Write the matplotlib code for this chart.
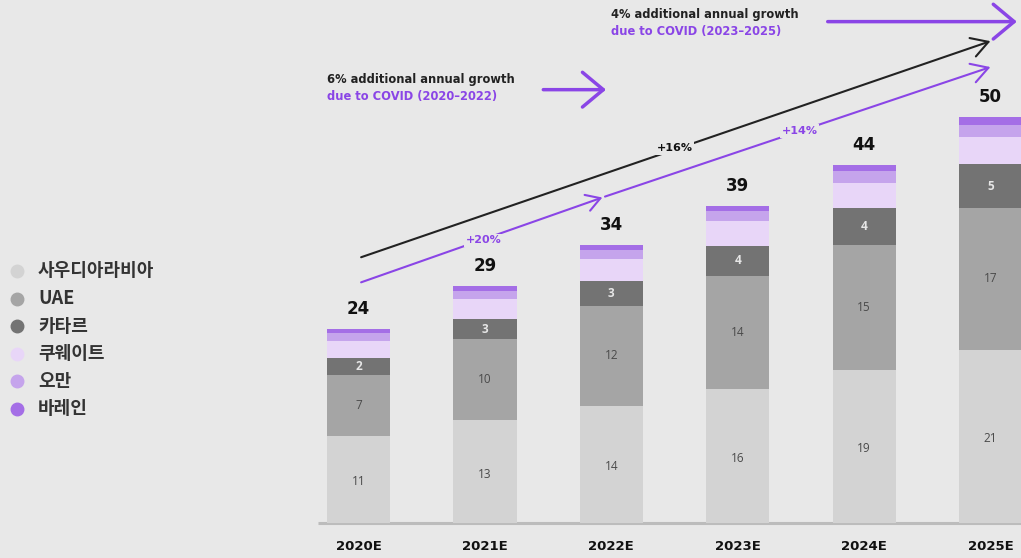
import matplotlib.pyplot as plt
from matplotlib.lines import Line2D

years = ["2020E", "2021E", "2022E", "2023E", "2024E", "2025E"]
totals = [24, 29, 34, 39, 44, 50]
series = ["사우디아라비아", "UAE", "카타르", "쿠웨이트", "오만", "바레인"]
saudi = [10.8, 12.7, 14.5, 16.6, 18.9, 21.4]
uae = [7.5, 10.0, 12.3, 13.9, 15.4, 17.5]
qatar = [2.1, 2.5, 3.1, 3.7, 4.6, 5.4]
kuwait = [2.1, 2.5, 2.7, 3.1, 3.1, 3.4]
oman = [0.9, 0.9, 1.1, 1.2, 1.5, 1.4]
bahrain = [0.5, 0.6, 0.6, 0.6, 0.7, 1.0]
saudi_lbl = [11, 13, 14, 16, 19, 21]
uae_lbl = [7, 10, 12, 14, 15, 17]
qatar_lbl = [2, 3, 3, 4, 4, 5]

colors = ["#d3d3d3", "#a5a5a5", "#737373", "#e8d6f8", "#c5a4ec", "#a46ee6"]
bg = "#e8e8e8"
purple = "#8a45e6"
bold_font = "DejaVu Sans"

plt.rcParams['font.family'] = ['Noto Sans CJK KR', 'DejaVu Sans']

fig = plt.figure(figsize=(10.21, 5.58), dpi=100, facecolor=bg)
ax = fig.add_axes([0, 0, 1, 1])
ax.set_facecolor(bg)
ax.set_xlim(-2.836, 5.241)
ax.set_ylim(-4.32, 64.57)
ax.axis("off")

x = list(range(len(years)))
bottom = [0] * len(years)
for vals, c in zip([saudi, uae, qatar, kuwait, oman, bahrain], colors):
    ax.bar(x, vals, width=0.5, bottom=bottom, color=c, zorder=2)
    bottom = [b + v for b, v in zip(bottom, vals)]

# baseline
ax.plot([-0.32, 5.3], [0, 0], color="#bcbcbc", lw=2.2, zorder=1, solid_capstyle="butt")

# segment labels
for i in x:
    ax.text(i, saudi[i] / 2 - 0.3, str(saudi_lbl[i]), ha="center", va="center",
            fontsize=8.5, color="#4a4a4a", family="Open Sans", zorder=3)
    ax.text(i, saudi[i] + uae[i] / 2, str(uae_lbl[i]), ha="center", va="center",
            fontsize=8.5, color="#4a4a4a", family="Open Sans", zorder=3)
    ax.text(i, saudi[i] + uae[i] + qatar[i] / 2, str(qatar_lbl[i]), ha="center", va="center",
            fontsize=8.5, color="#e6e6e6", family="Open Sans", fontweight="bold", zorder=3)
    ax.annotate(str(totals[i]), (i, bottom[i]), xytext=(0, 8), textcoords="offset points",
                ha="center", va="bottom", fontsize=12, fontweight="bold", family=bold_font,
                color="#111111")
    ax.text(i, -2.9, years[i], ha="center", va="center", fontsize=9.5,
            fontweight="bold", family=bold_font, color="#111111")

# legend
for k, name in enumerate(series):
    yf = 1 - (271 + 27.6 * k) / 558
    fig.add_artist(Line2D([17 / 1021], [yf], marker="o", markersize=9,
                          color=colors[k], transform=fig.transFigure))
    fig.text(38 / 1021, yf, name, ha="left", va="center", fontsize=13,
             fontweight="bold", color="#333333")

# growth lines
ax.annotate("", xy=(5.02, 59.6), xytext=(0, 32.7),
            arrowprops=dict(arrowstyle="->,head_length=0.6,head_width=0.35",
                            color="#222222", lw=1.5, mutation_scale=20))
ax.annotate("", xy=(1.95, 40.3), xytext=(0, 29.6),
            arrowprops=dict(arrowstyle="->,head_length=0.5,head_width=0.3",
                            color=purple, lw=1.5, mutation_scale=20))
ax.annotate("", xy=(5.02, 56.4), xytext=(1.95, 40.3),
            arrowprops=dict(arrowstyle="->,head_length=0.6,head_width=0.35",
                            color=purple, lw=1.5, mutation_scale=20, shrinkA=0))

lbl_box = dict(boxstyle="square,pad=0.15", fc=bg, ec="none")
ax.text(2.50, 46.3, "+16%", ha="center", va="center", fontsize=8, fontweight="bold",
        family=bold_font, color="#111111", bbox=lbl_box, zorder=4)
ax.text(0.99, 34.9, "+20%", ha="center", va="center", fontsize=8, fontweight="bold",
        family=bold_font, color=purple, bbox=lbl_box, zorder=4)
ax.text(3.49, 48.4, "+14%", ha="center", va="center", fontsize=8, fontweight="bold",
        family=bold_font, color=purple, bbox=lbl_box, zorder=4)

# COVID notes
ax.text(-0.25, 54.7, "6% additional annual growth", ha="left", va="center", fontsize=8.3,
        fontweight="bold", family=bold_font, color="#222222")
ax.text(-0.25, 52.6, "due to COVID (2020–2022)", ha="left", va="center", fontsize=8.3,
        fontweight="bold", family=bold_font, color=purple)
ax.annotate("", xy=(1.98, 53.5), xytext=(1.44, 53.5),
            arrowprops=dict(arrowstyle="->,head_length=0.6,head_width=0.5",
                            color=purple, lw=2.5, mutation_scale=25))
ax.text(2.0, 62.8, "4% additional annual growth", ha="left", va="center", fontsize=8.3,
        fontweight="bold", family=bold_font, color="#222222")
ax.text(2.0, 60.7, "due to COVID (2023–2025)", ha="left", va="center", fontsize=8.3,
        fontweight="bold", family=bold_font, color=purple)
ax.annotate("", xy=(5.23, 61.9), xytext=(3.69, 61.9),
            arrowprops=dict(arrowstyle="->,head_length=0.6,head_width=0.5",
                            color=purple, lw=2.5, mutation_scale=25))

fig.savefig("out.png", dpi=100, facecolor=bg)
